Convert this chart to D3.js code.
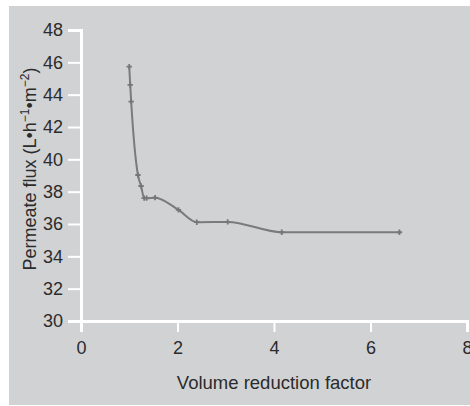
<!DOCTYPE html>
<html>
<head>
<meta charset="utf-8">
<script src="https://cdn.jsdelivr.net/npm/d3@7"></script>
<style>
  body { margin: 0; background: #fff; }
</style>
</head>
<body>
<div id="main"></div>
<script>
/// data ///
var vrf  = [1.0, 1.02, 1.04, 1.18, 1.245, 1.31, 1.36, 1.535, 2.02, 2.40, 3.04, 4.16, 6.6];
var flux = [45.73, 44.6, 43.57, 39.03, 38.35, 37.6, 37.6, 37.63, 36.87, 36.11, 36.13, 35.49, 35.49];
var xTicks = [0, 2, 4, 6, 8];
var yTicks = [30, 32, 34, 36, 38, 40, 42, 44, 46, 48];

const w = 470;
const h = 406;
const font = '"Liberation Sans", Arial, sans-serif';
const txt = '#2b2b2b';

const svg = d3.select('#main')
            .append('svg')
            .attr('width', w)
            .attr('height', h);

// grey panel
svg.append('rect')
    .attr('x', 9)
    .attr('y', 6)
    .attr('width', w - 9)
    .attr('height', h - 7)
    .attr('fill', '#d1d2d4');

const x = d3.scaleLinear().domain([0, 8]).range([81, 467]);
const y = d3.scaleLinear().domain([30, 48]).range([321, 30]);

// x axis
const xAxis = svg.append('g')
    .attr('transform', 'translate(0,' + y(30) + ')')
    .call(d3.axisBottom(x).tickValues(xTicks).tickSize(11).tickPadding(9));

// y axis
const yAxis = svg.append('g')
    .attr('transform', 'translate(' + x(0) + ',0)')
    .call(d3.axisLeft(y).tickValues(yTicks).tickSize(13).tickPadding(5));

[xAxis, yAxis].forEach(function(a) {
    a.attr('font-size', 18).attr('font-family', font);
    a.select('.domain').attr('stroke', '#fff').attr('stroke-width', 3);
    a.selectAll('.tick line').attr('stroke', '#fff').attr('stroke-width', 2);
    a.selectAll('.tick text').attr('fill', txt);
});

// axis titles
svg.append('text')
    .attr('x', x(4))
    .attr('y', 389)
    .attr('text-anchor', 'middle')
    .attr('font-family', font)
    .attr('font-size', 18.5)
    .attr('fill', txt)
    .text('Volume reduction factor');

const yt = svg.append('text')
    .attr('transform', 'translate(36,169) rotate(-90)')
    .attr('text-anchor', 'middle')
    .attr('font-family', font)
    .attr('font-size', 18)
    .attr('fill', txt);
yt.append('tspan').text('Permeate flux (L\u2022h');
yt.append('tspan').attr('dy', -7).attr('font-size', 12).text('\u22121');
yt.append('tspan').attr('dy', 7).text('\u2022m');
yt.append('tspan').attr('dy', -7).attr('font-size', 12).text('\u22122');
yt.append('tspan').attr('dy', 7).text(')');

// curve
const pts = vrf.map((v, i) => [v, flux[i]]);

const line = d3.line()
    .x(d => x(d[0]))
    .y(d => y(d[1]))
    .curve(d3.curveMonotoneX);

svg.append('path')
    .datum(pts)
    .attr('d', line)
    .attr('fill', 'none')
    .attr('stroke', '#7b7b7d')
    .attr('stroke-width', 2);

// small cross markers
svg.selectAll('.mark')
    .data(pts)
    .enter()
    .append('path')
    .attr('class', 'mark')
    .attr('d', d3.symbol().type(d3.symbolCross).size(16))
    .attr('transform', d => 'translate(' + x(d[0]) + ',' + y(d[1]) + ')')
    .attr('fill', '#77777a');
</script>
</body>
</html>
